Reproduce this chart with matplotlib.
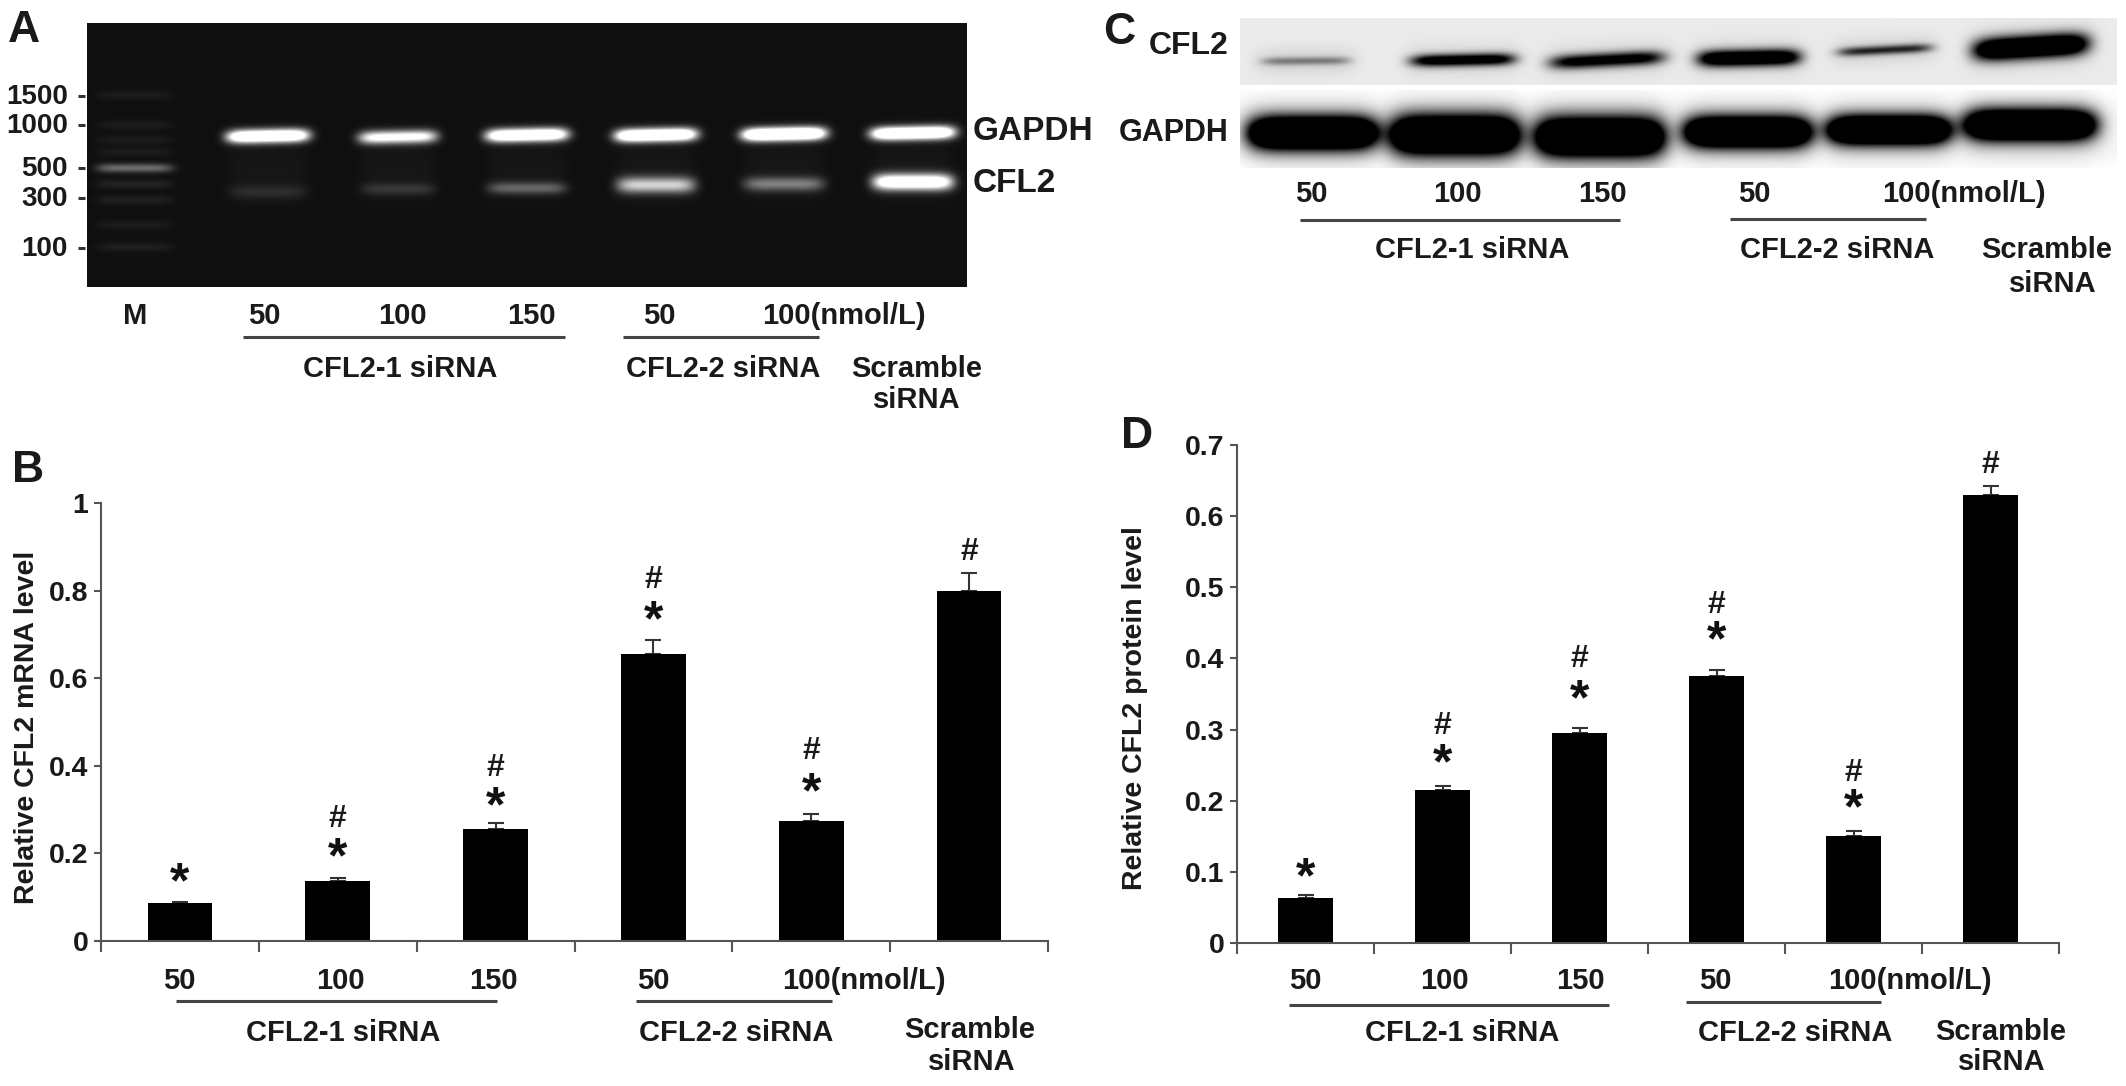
import numpy as np
import matplotlib
matplotlib.use("Agg")
import matplotlib.pyplot as plt

plt.rcParams['font.family'] = ['Liberation Sans', 'DejaVu Sans']
plt.rcParams['font.weight'] = 'bold'

W, H = 2126, 1086
FS = 21
HASH_FS = 23

# datos
doses = ['50', '100', '150', '50', '100(nmol/L)']
groups = ['CFL2-1 siRNA', 'CFL2-2 siRNA', 'Scramble', 'siRNA']
marker_sizes = ['1500', '1000', '500', '300', '100']

mrna = [0.087, 0.137, 0.255, 0.655, 0.275, 0.80]
mrna_err = [0.003, 0.007, 0.014, 0.033, 0.015, 0.04]
mrna_star = [0.157, 0.213, 0.33, 0.756, 0.362, None]
mrna_hash = [None, 0.285, 0.403, 0.832, 0.44, 0.895]
mrna_ticks = [0, 0.2, 0.4, 0.6, 0.8, 1]
mrna_ticklabels = ['0', '0.2', '0.4', '0.6', '0.8', '1']

prot = [0.063, 0.215, 0.295, 0.375, 0.15, 0.63]
prot_err = [0.004, 0.006, 0.007, 0.009, 0.008, 0.012]
prot_star = [0.107, 0.267, 0.357, 0.439, 0.203, None]
prot_hash = [None, 0.31, 0.403, 0.48, 0.243, 0.676]
prot_ticks = [0, 0.1, 0.2, 0.3, 0.4, 0.5, 0.6, 0.7]
prot_ticklabels = ['0', '0.1', '0.2', '0.3', '0.4', '0.5', '0.6', '0.7']

# gel A: brillo de las bandas por carril
gel_gapdh = [1.5, 1.05, 1.45, 1.55, 1.7, 1.6]
gel_cfl2 = [0.10, 0.14, 0.32, 0.75, 0.42, 1.3]
gel_marker = [0.05, 0.05, 0.05, 0.05, 0.36, 0.08, 0.07, 0.05, 0.06]

# blot C: densidad de las bandas por carril
blot_cfl2 = [0.35, 1.1, 1.0, 1.35, 0.7, 1.6]
blot_gapdh = [2.0, 2.0, 2.0, 2.0, 2.0, 2.0]


def band(X, Y, cx, cy, hw, hh, slope=0.0):
    return np.exp(-((X - cx) / hw) ** 6) * np.exp(-((Y - cy - slope * (X - cx)) / hh) ** 2)


def grid(x0, x1, y0, y1):
    return np.meshgrid(np.arange(x0, x1) + 0.5, np.arange(y0, y1) + 0.5)


fig = plt.figure(figsize=(W / 100, H / 100), dpi=100, facecolor='white')
page = fig.add_axes([0, 0, 1, 1])


def put(x, y, s, ha='center', fs=FS, **kw):
    page.text(x, y + 1, s, ha=ha, va='center', fontsize=fs, color='#1a1a1a', **kw)


def rule(x0, x1, y):
    page.plot([x0, x1], [y, y], color='#444444', lw=2.2, solid_capstyle='butt')


# --- A: gel
x0, x1, y0, y1 = 87, 967, 23, 287
X, Y = grid(x0, x1, y0, y1)
gel = np.full(X.shape, 0.06)
lanes = [268, 398, 527, 656, 784, 913]
lane_w = [41, 39, 41, 41, 42, 42]
gapdh_y = [136, 137, 135, 135, 134, 133]
cfl2_y = [192, 189, 188, 185, 184, 182]
cfl2_h = [7, 6, 6, 8, 7, 8]
for i in range(6):
    gel += gel_gapdh[i] * band(X, Y, lanes[i], gapdh_y[i], lane_w[i], 6.5, -0.02)
    gel += gel_cfl2[i] * band(X, Y, lanes[i], cfl2_y[i], lane_w[i] - 2, cfl2_h[i])
    gel += 0.03 * band(X, Y, lanes[i], 170, lane_w[i] - 2, 32)
for yy, amp in zip([95, 125, 140, 152, 168, 184, 200, 225, 247], gel_marker):
    gel += amp * band(X, Y, 135, yy, 38, 4.5)
page.imshow(np.clip(gel, 0, 1), cmap='gray', vmin=0, vmax=1, extent=(x0, x1, y1, y0),
            aspect='auto', interpolation='bilinear')

put(8, 29, 'A', ha='left', fs=32)
for yy, s in zip([96, 125, 168, 198, 248], marker_sizes):
    put(68, yy, s, ha='right', fs=20)
    page.plot([78, 85], [yy, yy], color='#333333', lw=2.2, solid_capstyle='butt')
put(135, 315, 'M')
for xx, s in zip([264, 402, 531, 659, 844], doses):
    put(xx, 315, s)
rule(243, 565, 337)
rule(623, 819, 337)
put(400, 368, groups[0])
put(723, 368, groups[1])
put(917, 368, groups[2])
put(917, 399, groups[3])
put(973, 130, 'GAPDH', ha='left', fs=24)
put(973, 183, 'CFL2', ha='left', fs=24)

# --- C: western blot
x0, x1, y0, y1 = 1240, 2117, 18, 85
X, Y = grid(x0, x1, y0, y1)
top = np.full(X.shape, 0.92)
lanes = [1306, 1463, 1607, 1749, 1885, 2031]
lane_w = [44, 52, 57, 51, 47, 57]
top_y = [61, 60, 60, 58, 50, 47]
top_h = [4, 6, 7, 8, 4.5, 11]
top_s = [-0.01, -0.02, -0.05, -0.02, -0.05, -0.06]
for i in range(6):
    top -= blot_cfl2[i] * band(X, Y, lanes[i], top_y[i], lane_w[i], top_h[i], top_s[i])
    top -= 0.10 * band(X, Y, lanes[i], top_y[i], lane_w[i] + 6, top_h[i] + 9, top_s[i])
page.imshow(np.clip(top, 0, 1), cmap='gray', vmin=0, vmax=1, extent=(x0, x1, y1, y0),
            aspect='auto', interpolation='bilinear')

x0, x1, y0, y1 = 1240, 2117, 90, 168
X, Y = grid(x0, x1, y0, y1)
low = np.full(X.shape, 1.0) - 0.05 * np.exp(-((Y - 130) / 32) ** 4)
lanes = [1313, 1455, 1600, 1748, 1889, 2030]
lane_w = [65, 65, 65, 64, 62, 66]
low_y = [133, 135, 137, 132, 130, 125]
low_h = [16, 19, 19, 15, 14, 15]
for i in range(6):
    low -= blot_gapdh[i] * band(X, Y, lanes[i], low_y[i], lane_w[i], low_h[i])
    low -= 0.2 * band(X, Y, lanes[i], low_y[i] + 1, lane_w[i], low_h[i] + 13)
page.imshow(np.clip(low, 0, 1), cmap='gray', vmin=0, vmax=1, extent=(x0, x1, y1, y0),
            aspect='auto', interpolation='bilinear')

put(1103, 31, 'C', ha='left', fs=32)
put(1228, 45, 'CFL2', ha='right', fs=23)
put(1228, 132, 'GAPDH', ha='right', fs=22)
for xx, s in zip([1311, 1457, 1602, 1754, 1964], doses):
    put(xx, 193, s)
rule(1300, 1620, 220)
rule(1730, 1926, 219)
put(1472, 249, groups[0])
put(1837, 249, groups[1])
put(2047, 249, groups[2])
put(2053, 283, groups[3])

page.set_xlim(0, W)
page.set_ylim(H, 0)
page.axis('off')


def bars(box, vals, errs, stars, hashes, ticks, ticklabels, width):
    left, right, bottom, top_px = box
    ax = fig.add_axes([left / W, 1 - bottom / H, (right - left) / W, (bottom - top_px) / H])
    ax.patch.set_alpha(0)
    xs = np.arange(6) + 0.5
    ax.bar(xs, vals, width=width, color='black', edgecolor='none', zorder=2)
    ax.errorbar(xs, vals, yerr=[np.zeros(6), errs], fmt='none', ecolor='#333333',
                elinewidth=1.5, capsize=6, capthick=1.5, zorder=1)
    for x, s in zip(xs, stars):
        if s is not None:
            ax.annotate('*', (x, s), xytext=(0, -0.5 * 36), textcoords='offset points',
                        ha='center', va='baseline', fontsize=36, color='#111111')
    for x, s in zip(xs, hashes):
        if s is not None:
            ax.annotate('#', (x, s), xytext=(0, -0.35 * HASH_FS), textcoords='offset points',
                        ha='center', va='baseline', fontsize=HASH_FS, color='#1a1a1a')
    ax.set_xlim(0, 6)
    ax.set_ylim(0, ticks[-1])
    ax.set_xticks(np.arange(7))
    ax.set_xticklabels([])
    ax.set_yticks(ticks)
    ax.set_yticklabels(ticklabels, fontsize=20.5, color='#1a1a1a')
    ax.tick_params(axis='x', length=8, width=1.5, color='#555555')
    ax.tick_params(axis='y', length=5, width=1.5, color='#555555', pad=4)
    for side in ['top', 'right']:
        ax.spines[side].set_visible(False)
    for side in ['left', 'bottom']:
        ax.spines[side].set_color('#555555')
        ax.spines[side].set_linewidth(1.5)
    return ax


# --- B
bars((101, 1048, 941, 503), mrna, mrna_err, mrna_star, mrna_hash, mrna_ticks, mrna_ticklabels, 0.41)
# --- D
bars((1237, 2059, 943, 445), prot, prot_err, prot_star, prot_hash, prot_ticks, prot_ticklabels, 0.40)

put(12, 469, 'B', ha='left', fs=32)
put(27, 726, 'Relative CFL2 mRNA level', fs=20.5, rotation=90)
for xx, s in zip([179, 340, 493, 653, 864], doses):
    put(xx, 980, s)
rule(176, 497, 1001)
rule(636, 832, 1001)
put(343, 1032, groups[0])
put(736, 1032, groups[1])
put(970, 1029, groups[2])
put(972, 1061, groups[3])

put(1121, 435, 'D', ha='left', fs=32)
put(1135, 707, 'Relative CFL2 protein level', fs=20.5, rotation=90)
for xx, s in zip([1305, 1444, 1580, 1715, 1910], doses):
    put(xx, 980, s)
rule(1289, 1609, 1005)
rule(1686, 1881, 1002)
put(1462, 1032, groups[0])
put(1795, 1032, groups[1])
put(2001, 1031, groups[2])
put(2002, 1061, groups[3])

fig.savefig('out.png', dpi=100)
